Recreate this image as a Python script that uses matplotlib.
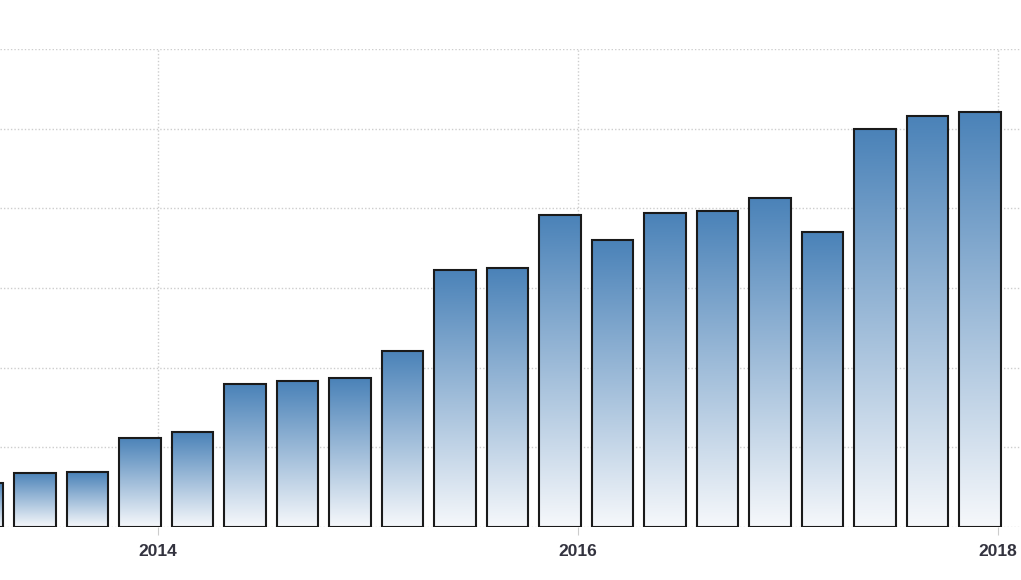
import numpy as np
import matplotlib
matplotlib.use("Agg")
import matplotlib.pyplot as plt
from matplotlib.colors import LinearSegmentedColormap

# quarterly values, Q1 2013 .. Q4 2017
quarters = ["2013Q1", "2013Q2", "2013Q3", "2013Q4",
            "2014Q1", "2014Q2", "2014Q3", "2014Q4",
            "2015Q1", "2015Q2", "2015Q3", "2015Q4",
            "2016Q1", "2016Q2", "2016Q3", "2016Q4",
            "2017Q1", "2017Q2", "2017Q3", "2017Q4"]
values = [5.5, 6.8, 6.9, 11.2, 11.9, 17.9, 18.3, 18.7, 22.1, 32.3,
          32.5, 39.2, 36.0, 39.4, 39.7, 41.3, 37.0, 50.0, 51.6, 52.1]
year_ticks = [2014, 2016, 2018]

# x in quarters since start of 2014; bars end at the end of their quarter
bar_end = np.arange(len(values)) - 3 + 0.05
tick_pos = [(y - 2014) * 4 for y in year_ticks]

fig = plt.figure(figsize=(10.21, 5.8), dpi=100)
ax = fig.add_axes([0, 53 / 580, 1, (527 - 49) / 580])

cmap = LinearSegmentedColormap.from_list("grad", ["#f6f8fb", "#4a82b8"])
grad = np.linspace(0, 1, 256).reshape(-1, 1)

bars = ax.bar(bar_end, values, width=-0.79, align="edge",
              facecolor="none", edgecolor="#1a1a1a", linewidth=1.5, zorder=3)
for b in bars:
    x0, w, h = b.get_x(), b.get_width(), b.get_height()
    im = ax.imshow(grad, cmap=cmap, origin="lower", aspect="auto",
                   extent=[x0, x0 + w, 0, h], zorder=2)
    im.set_clip_path(b)

ax.set_xlim((0 - 158) / 52.5, (1021 - 158) / 52.5)
ax.set_ylim(0, 60)

ax.set_yticks(np.arange(0, 61, 10))
ax.set_yticklabels([])
ax.set_xticks(tick_pos)
ax.set_xticklabels([str(y) for y in year_ticks], fontsize=12.5,
                   fontweight="bold", color="#33333f", family="Liberation Sans")
ax.tick_params(axis="y", length=0)
ax.tick_params(axis="x", length=6, color="#cccccc", pad=6)
ax.grid(True, color="#cdcdcd", linestyle=(0, (1, 1.5)), linewidth=1, zorder=0)
ax.set_axisbelow(True)
for s in ax.spines.values():
    s.set_visible(False)

fig.savefig("out.png", dpi=100, facecolor="white")
